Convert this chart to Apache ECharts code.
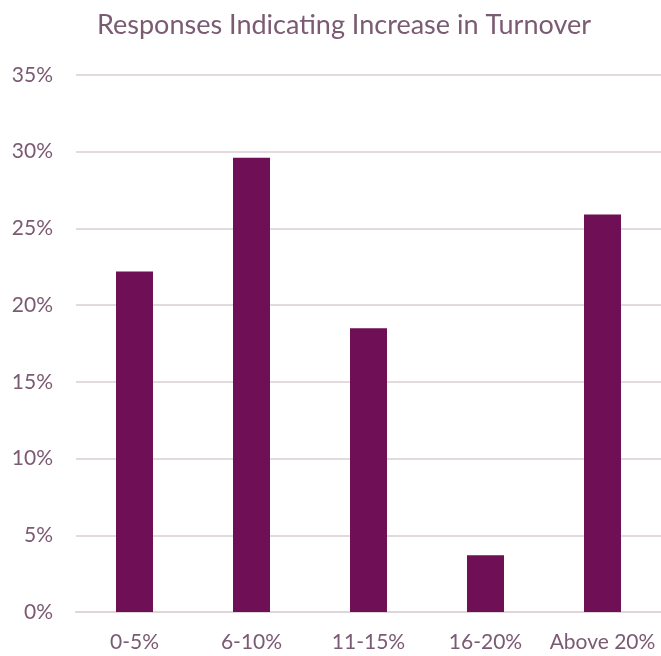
<!DOCTYPE html>
<html>
<head>
<meta charset="utf-8">
<style>
  html, body { margin: 0; padding: 0; background: #ffffff; }
  #chart { width: 661px; height: 656px; }
</style>
<script src="https://cdn.jsdelivr.net/npm/echarts@6/dist/echarts.min.js"></script>
</head>
<body>
<div id="chart"></div>
<script>
// Turnover-increase bands and the share of responses in each
const categories = ['0-5%', '6-10%', '11-15%', '16-20%', 'Above 20%'];
const shares = [22.2, 29.6, 18.5, 3.7, 25.9];
const yTicks = [0, 5, 10, 15, 20, 25, 30, 35];

const textColor = '#7b5a73';
const fontFamily = 'Lato, "Open Sans", sans-serif';

const chart = echarts.init(document.getElementById('chart'), null, { renderer: 'canvas' });
chart.setOption({
  animation: false,
  backgroundColor: '#ffffff',
  title: {
    text: 'Responses Indicating Increase in Turnover',
    left: 92,
    top: 7,
    textStyle: { color: textColor, fontFamily, fontSize: 27, fontWeight: 'normal' }
  },
  grid: { left: 76, right: 0, top: 75, bottom: 44, containLabel: false },
  xAxis: {
    type: 'category',
    data: categories,
    axisLine: { lineStyle: { color: '#ddd5da', width: 2 } },
    axisTick: { show: false },
    axisLabel: { color: textColor, fontFamily, fontSize: 21, margin: 20, interval: 0 }
  },
  yAxis: {
    type: 'value',
    min: yTicks[0],
    max: yTicks[yTicks.length - 1],
    interval: 5,
    axisLine: { show: false },
    axisTick: { show: false },
    splitLine: { lineStyle: { color: '#e2dade', width: 2 } },
    axisLabel: { color: textColor, fontFamily, fontSize: 21, margin: 23, formatter: '{value}%' }
  },
  series: [{
    type: 'bar',
    data: shares,
    barWidth: 37,
    itemStyle: { color: '#6f0f55' }
  }]
});
</script>
</body>
</html>
